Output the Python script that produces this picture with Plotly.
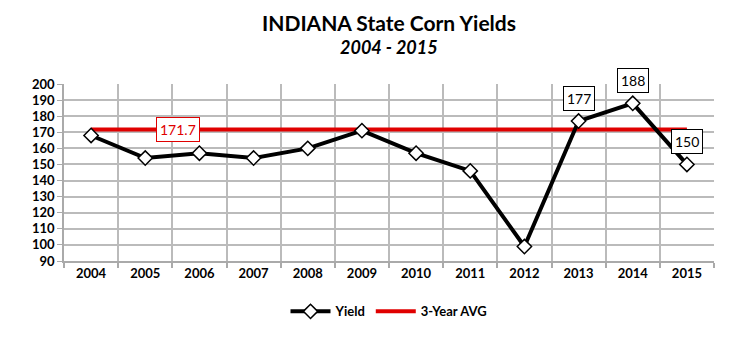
import plotly.graph_objects as go

years = [2004, 2005, 2006, 2007, 2008, 2009, 2010, 2011, 2012, 2013, 2014, 2015]
yield_vals = [168, 154, 157, 154, 160, 171, 157, 146, 99, 177, 188, 150]
avg_value = 171.7
avg_label = "171.7"
labeled_years = [2013, 2014, 2015]

FONT = "Lato, Carlito, Arial, sans-serif"

fig = go.Figure()
fig.add_trace(go.Scatter(
    x=years, y=[avg_value] * len(years), mode="lines", name="<b>3-Year AVG</b>",
    line=dict(color="#E00000", width=4),
))
fig.add_trace(go.Scatter(
    x=years, y=yield_vals, mode="lines+markers", name="<b>Yield</b>",
    line=dict(color="black", width=4),
    marker=dict(symbol="diamond", size=11, color="white", line=dict(color="black", width=1.5)),
))

for yr in labeled_years:
    v = yield_vals[years.index(yr)]
    fig.add_annotation(x=yr, y=v, text=str(v), showarrow=False, yshift=23,
                       font=dict(family=FONT, size=14, color="black"),
                       bgcolor="white", bordercolor="black", borderwidth=1, borderpad=3)

fig.add_annotation(x=2005.6, y=avg_value, text=avg_label, showarrow=False,
                   font=dict(family=FONT, size=14, color="#E00000"),
                   bgcolor="white", bordercolor="#E00000", borderwidth=1, borderpad=3)

fig.add_annotation(x=0.5, xref="paper", y=22, yref="paper", yanchor="middle",
                   text="<b>INDIANA State Corn Yields</b>", showarrow=False,
                   font=dict(family=FONT, size=21, color="black"))

fig.update_layout(
    width=750, height=339,
    margin=dict(l=64, r=36, t=84, b=76),
    paper_bgcolor="white", plot_bgcolor="white",
    font=dict(family=FONT, size=13, color="black"),
    showlegend=True,
    legend=dict(orientation="h", x=0.5, xanchor="center", y=-0.2, yanchor="top",
                traceorder="reversed", font=dict(family=FONT, size=13, color="black"),
                itemwidth=40),
)
fig.layout.annotations[-1].update(y=1.0, yanchor="middle", yshift=84 - 22)
fig.add_annotation(x=0.5, xref="paper", y=1.0, yref="paper", yanchor="middle", yshift=84 - 47,
                   text="<b><i>2004 - 2015</i></b>", showarrow=False,
                   font=dict(family=FONT, size=18, color="black"))

fig.update_xaxes(
    range=[2003.5, 2015.5], tickmode="array", tickvals=years,
    ticktext=[f"<b>{y}</b>" for y in years],
    showgrid=False, ticks="", zeroline=False,
    showline=True, linecolor="#AAAAAA", linewidth=1.5,
    minor=dict(tickmode="linear", tick0=2003.5, dtick=1, showgrid=True,
               gridcolor="#BBBBBB", gridwidth=1.5, ticks="outside", ticklen=5,
               tickcolor="#AAAAAA", tickwidth=1.5),
    tickfont=dict(family=FONT, size=13, color="black"),
)
fig.update_yaxes(
    range=[90, 200],
    tickvals=list(range(90, 201, 10)),
    ticktext=[f"<b>{v}</b>" for v in range(90, 201, 10)],
    showgrid=True, gridcolor="#BBBBBB", gridwidth=1.5, zeroline=False,
    showline=True, linecolor="#AAAAAA", linewidth=1.5,
    ticks="outside", ticklen=5, tickcolor="#AAAAAA",
    tickfont=dict(family=FONT, size=13, color="black"),
)

fig.write_html("out.html")
